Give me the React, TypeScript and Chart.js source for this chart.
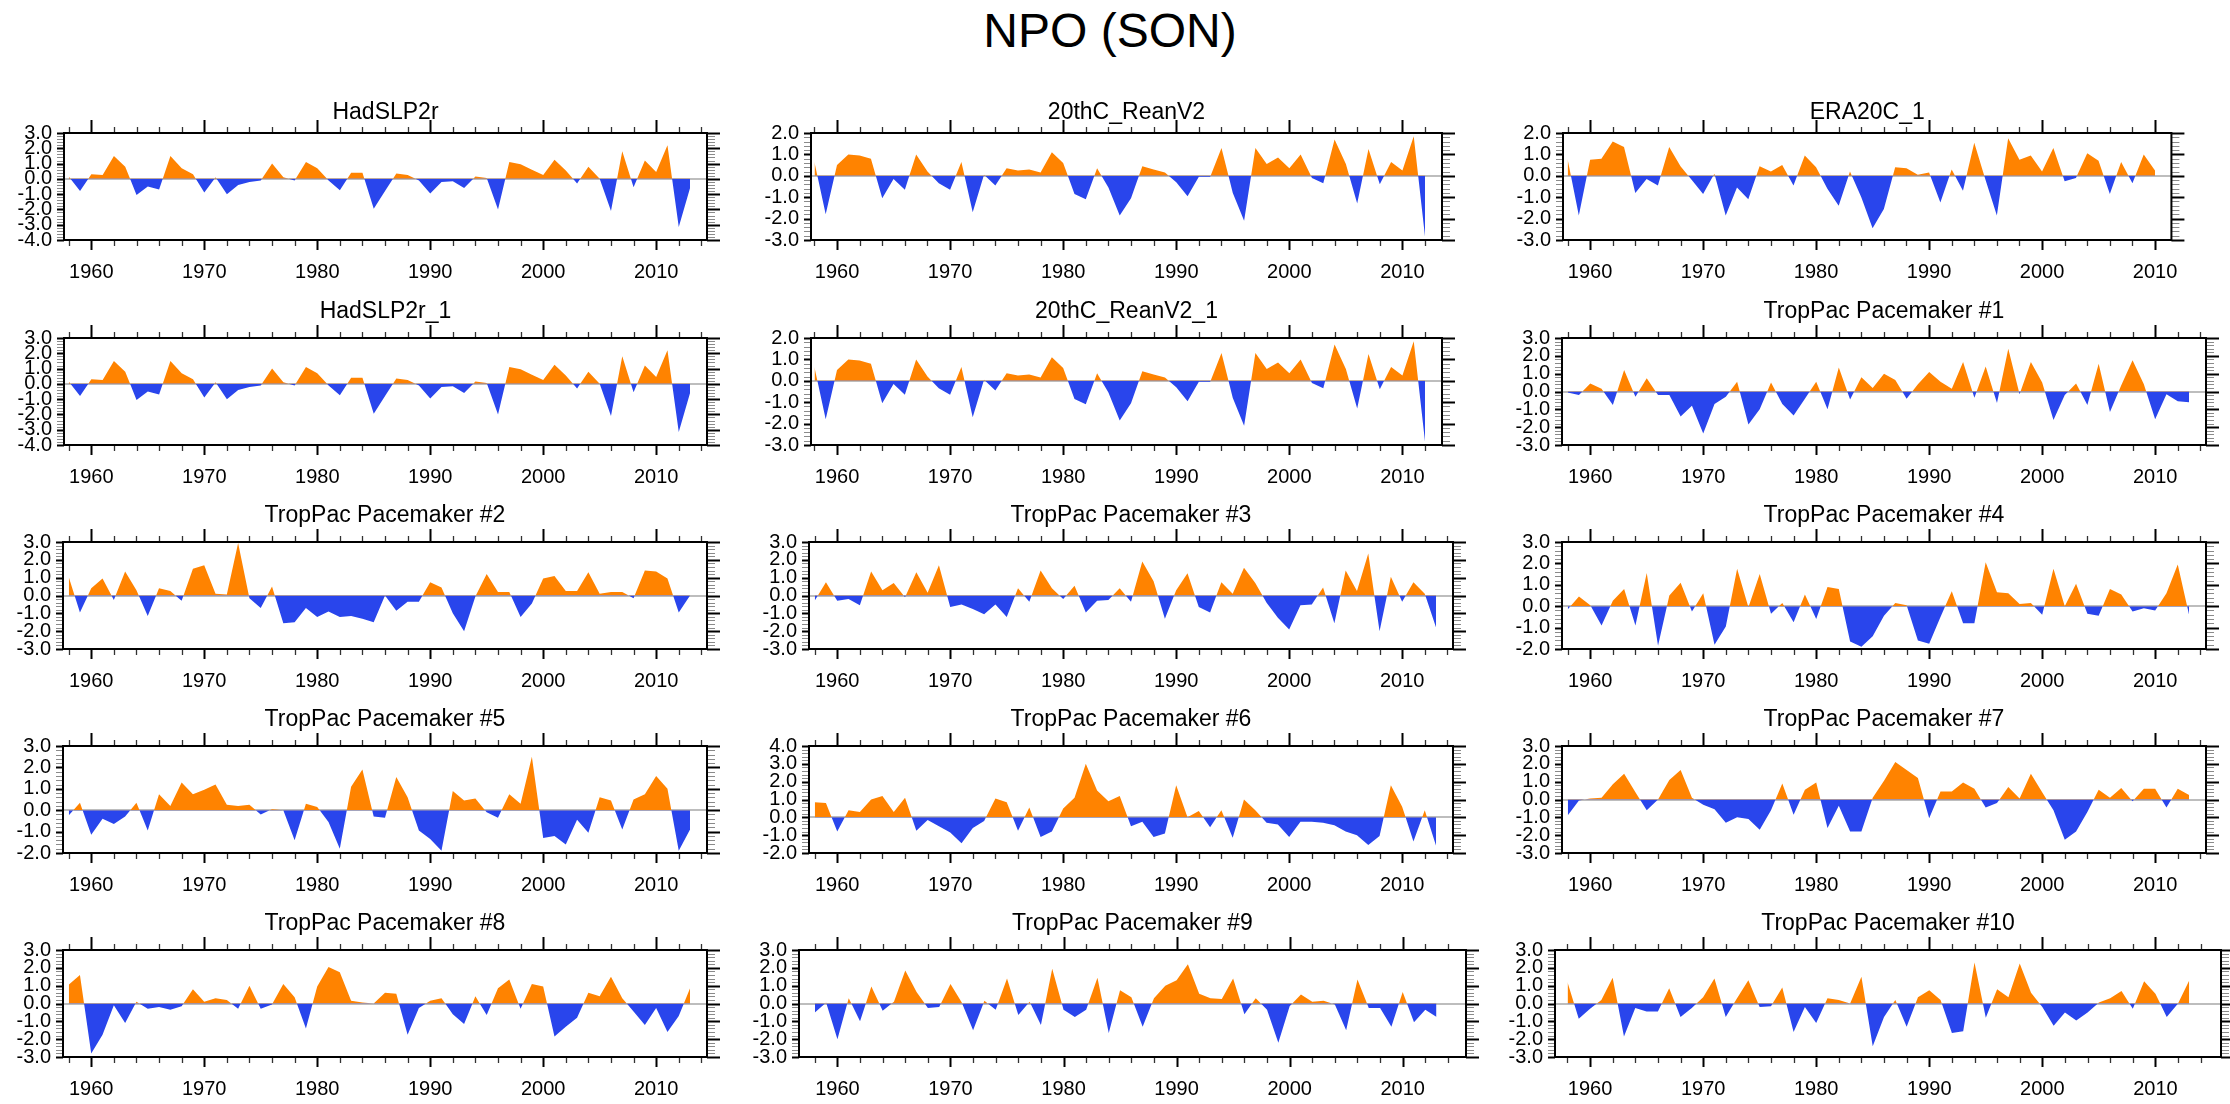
import React, { useEffect, useRef } from 'react';
import { Chart, registerables } from 'chart.js';

Chart.register(...registerables);

const FONT = "'Liberation Sans', Arial, Helvetica, sans-serif";
const ORANGE = '#FF8300';
const BLUE = '#2945EC';

const YEARS = [
  1958, 1959, 1960, 1961, 1962, 1963, 1964, 1965, 1966, 1967,
  1968, 1969, 1970, 1971, 1972, 1973, 1974, 1975, 1976, 1977,
  1978, 1979, 1980, 1981, 1982, 1983, 1984, 1985, 1986, 1987,
  1988, 1989, 1990, 1991, 1992, 1993, 1994, 1995, 1996, 1997,
  1998, 1999, 2000, 2001, 2002, 2003, 2004, 2005, 2006, 2007,
  2008, 2009, 2010, 2011, 2012, 2013,
];

const HADSLP2R = [
  0.15, -0.8, 0.3, 0.25, 1.5, 0.8, -1.05, -0.5, -0.7, 1.5,
  0.7, 0.3, -0.9, 0.1, -1.0, -0.4, -0.2, -0.1, 1.0, 0.1,
  -0.1, 1.1, 0.7, -0.1, -0.75, 0.4, 0.4, -1.95, -0.8, 0.35,
  0.25, -0.1, -0.95, -0.2, -0.15, -0.6, 0.15, 0.05, -2.0, 1.1,
  0.95, 0.6, 0.25, 1.25, 0.55, -0.3, 0.8, 0.0, -2.1, 1.8,
  -0.55, 1.2, 0.45, 2.2, -3.15, -0.6,
];

const REANV2 = [
  0.65, -1.8, 0.5, 1.0, 0.95, 0.8, -1.05, -0.15, -0.65, 1.0,
  0.2, -0.35, -0.65, 0.65, -1.7, 0.05, -0.45, 0.35, 0.25, 0.3,
  0.15, 1.1, 0.6, -0.85, -1.1, 0.35, -0.55, -1.85, -1.05, 0.45,
  0.3, 0.15, -0.3, -0.95, -0.05, -0.05, 1.3, -0.8, -2.1, 1.3,
  0.55, 0.85, 0.35, 1.0, -0.1, -0.35, 1.7, 0.55, -1.3, 1.25,
  -0.4, 0.65, 0.25, 1.85, -2.85,
];

const ERA20C = [
  0.8, -1.85, 0.75, 0.8, 1.6, 1.35, -0.8, -0.15, -0.45, 1.35,
  0.45, -0.2, -0.85, 0.1, -1.85, -0.55, -1.1, 0.45, 0.2, 0.5,
  -0.45, 0.95, 0.4, -0.6, -1.4, 0.2, -1.0, -2.45, -1.55, 0.4,
  0.35, 0.05, 0.15, -1.25, 0.3, -0.7, 1.55, -0.2, -1.85, 1.75,
  0.75, 0.95, 0.2, 1.3, -0.25, -0.1, 1.05, 0.7, -0.85, 0.65,
  -0.35, 1.0, 0.25,
];

const PM1 = [
  -0.05, -0.2, 0.45, 0.15, -0.75, 1.2, -0.3, 0.75, -0.2, -0.2,
  -1.4, -0.8, -2.35, -0.7, -0.3, 0.55, -1.85, -1.0, 0.5, -0.7,
  -1.35, -0.4, 0.55, -1.0, 1.35, -0.45, 0.8, 0.2, 1.0, 0.65,
  -0.4, 0.4, 1.1, 0.55, 0.15, 1.65, -0.35, 1.4, -0.65, 2.4,
  -0.15, 1.65, 0.5, -1.6, -0.2, 0.45, -0.75, 1.55, -1.15, 0.35,
  1.75, 0.4, -1.55, -0.15, -0.55, -0.6,
];

const PM2 = [
  1.05, -0.95, 0.4, 0.95, -0.25, 1.35, 0.3, -1.15, 0.4, 0.25,
  -0.3, 1.5, 1.7, 0.1, 0.05, 2.95, -0.15, -0.7, 0.5, -1.55,
  -1.5, -0.7, -1.2, -0.9, -1.2, -1.15, -1.3, -1.5, 0.0, -0.85,
  -0.35, -0.35, 0.75, 0.45, -1.0, -2.0, -0.05, 1.2, 0.2, 0.2,
  -1.2, -0.45, 0.95, 1.1, 0.25, 0.25, 1.3, 0.1, 0.2, 0.2,
  -0.15, 1.4, 1.35, 0.95, -0.95, 0.0,
];

const PM3 = [
  -0.3, 0.75, -0.3, -0.2, -0.55, 1.35, 0.3, 0.7, -0.1, 1.3,
  0.15, 1.7, -0.65, -0.5, -0.75, -1.05, -0.5, -1.2, 0.4, -0.35,
  1.4, 0.4, -0.2, 0.55, -0.95, -0.3, -0.25, 0.4, -0.35, 1.9,
  0.8, -1.3, 0.3, 1.25, -0.65, -0.95, 0.75, 0.1, 1.55, 0.7,
  -0.4, -1.25, -1.9, -0.55, -0.5, 0.45, -1.55, 1.4, 0.25, 2.35,
  -2.0, 1.05, -0.35, 0.75, 0.1, -1.8,
];

const PM4 = [
  -0.15, 0.45, 0.05, -0.9, 0.25, 0.8, -0.9, 1.55, -1.85, 0.5,
  1.1, -0.25, 0.6, -1.8, -0.95, 1.75, -0.05, 1.5, -0.35, 0.15,
  -0.75, 0.55, -0.6, 0.9, 0.8, -1.65, -1.9, -1.4, -0.45, 0.15,
  0.05, -1.6, -1.75, -0.5, 0.7, -0.8, -0.8, 2.05, 0.65, 0.6,
  0.1, 0.15, -0.4, 1.75, 0.0, 1.05, -0.35, -0.45, 0.8, 0.55,
  -0.25, -0.1, -0.2, 0.6, 1.95, -0.4,
];

const PM5 = [
  -0.25, 0.35, -1.15, -0.4, -0.65, -0.3, 0.35, -0.95, 0.75, 0.2,
  1.3, 0.75, 0.95, 1.2, 0.25, 0.2, 0.25, -0.2, 0.05, 0.0,
  -1.4, 0.3, 0.15, -0.55, -1.8, 1.1, 1.9, -0.3, -0.35, 1.55,
  0.6, -0.95, -1.35, -1.9, 0.9, 0.45, 0.55, -0.1, -0.35, 0.75,
  0.3, 2.5, -1.3, -1.2, -1.6, -0.45, -1.05, 0.6, 0.45, -0.9,
  0.5, 0.75, 1.6, 1.0, -1.9, -0.9,
];

const PM6 = [
  0.85, 0.8, -0.8, 0.4, 0.3, 1.0, 1.2, 0.3, 1.1, -0.75,
  -0.15, -0.5, -0.85, -1.45, -0.6, -0.2, 1.05, 0.85, -0.75, 0.55,
  -1.1, -0.8, 0.5, 1.1, 3.0, 1.5, 0.9, 1.2, -0.5, -0.25,
  -1.1, -0.9, 1.8, 0.0, 0.35, -0.55, 0.4, -1.15, 1.0, 0.4,
  -0.3, -0.4, -1.1, -0.25, -0.25, -0.3, -0.45, -0.8, -1.0, -1.55,
  -1.05, 1.8, 0.6, -1.35, 0.4, -1.6,
];

const PM7 = [
  -0.9, -0.05, 0.05, 0.1, 0.85, 1.45, 0.4, -0.6, 0.0, 1.1,
  1.65, 0.1, -0.3, -0.55, -1.3, -1.0, -1.1, -1.7, -0.6, 0.9,
  -0.85, 0.55, 0.95, -1.6, -0.35, -1.8, -1.8, 0.1, 1.05, 2.1,
  1.65, 1.2, -1.05, 0.45, 0.45, 0.95, 0.6, -0.45, -0.2, 0.7,
  0.05, 1.45, 0.4, -0.6, -2.25, -1.8, -0.7, 0.55, 0.1, 0.65,
  -0.1, 0.6, 0.6, -0.45, 0.6, 0.25,
];

const PM8 = [
  1.05, 1.6, -2.8, -1.75, -0.1, -1.1, 0.1, -0.3, -0.2, -0.35,
  -0.15, 0.8, 0.1, 0.3, 0.2, -0.3, 1.0, -0.3, -0.05, 1.1,
  0.35, -1.4, 0.95, 2.05, 1.75, 0.15, 0.05, 0.0, 0.6, 0.55,
  -1.75, -0.25, 0.15, 0.3, -0.6, -1.15, 0.4, -0.65, 0.85, 1.35,
  -0.3, 1.1, 0.95, -1.85, -1.3, -0.8, 0.6, 0.4, 1.5, 0.3,
  -0.45, -1.2, -0.25, -1.6, -0.7, 0.85,
];

const PM9 = [
  -0.5, 0.05, -2.0, 0.3, -1.0, 0.95, -0.4, 0.1, 1.85, 0.65,
  -0.25, -0.2, 1.1, 0.05, -1.5, 0.15, -0.35, 1.4, -0.65, 0.1,
  -1.2, 1.95, -0.35, -0.75, -0.35, 1.45, -1.65, 0.75, 0.35, -1.3,
  0.3, 1.0, 1.3, 2.2, 0.55, 0.3, 0.25, 1.4, -0.6, 0.3,
  -0.35, -2.2, -0.15, 0.5, 0.1, 0.15, -0.05, -1.5, 1.35, -0.25,
  -0.25, -1.3, 0.65, -1.05, -0.35, -0.75,
];

const PM10 = [
  1.2, -0.85, -0.3, 0.2, 1.45, -1.85, -0.25, -0.45, -0.45, 0.85,
  -0.75, -0.25, 0.35, 1.4, -0.75, 0.3, 1.3, -0.2, -0.15, 0.9,
  -1.6, -0.2, -1.1, 0.3, 0.2, 0.0, 1.5, -2.4, -0.75, 0.2,
  -1.3, 0.35, 0.75, 0.2, -1.65, -1.55, 2.3, -0.8, 0.8, 0.35,
  2.25, 0.6, -0.2, -1.25, -0.5, -0.95, -0.5, 0.05, 0.3, 0.7,
  -0.3, 1.25, 0.55, -0.75, 0.0, 1.3,
];

const TITLES = [
  'HadSLP2r', '20thC_ReanV2', 'ERA20C_1',
  'HadSLP2r_1', '20thC_ReanV2_1', 'TropPac Pacemaker #1',
  'TropPac Pacemaker #2', 'TropPac Pacemaker #3', 'TropPac Pacemaker #4',
  'TropPac Pacemaker #5', 'TropPac Pacemaker #6', 'TropPac Pacemaker #7',
  'TropPac Pacemaker #8', 'TropPac Pacemaker #9', 'TropPac Pacemaker #10',
];

const SERIES = [
  HADSLP2R, REANV2, ERA20C,
  HADSLP2R, REANV2, PM1,
  PM2, PM3, PM4,
  PM5, PM6, PM7,
  PM8, PM9, PM10,
];

// y-axis ranges [min, max]
const Y_RANGES = [
  [-4, 3], [-3, 2], [-3, 2],
  [-4, 3], [-3, 2], [-3, 3],
  [-3, 3], [-3, 3], [-2, 3],
  [-2, 3], [-2, 4], [-3, 3],
  [-3, 3], [-3, 3], [-3, 3],
];

// x-axis ranges [min, max]
const X_RANGES = [
  [1957.58, 2014.5], [1957.7, 2013.5], [1957.6, 2011.45],
  [1957.58, 2014.5], [1957.7, 2013.5], [1957.5, 2014.5],
  [1957.5, 2014.5], [1957.5, 2014.5], [1957.5, 2014.5],
  [1957.5, 2014.5], [1957.5, 2014.5], [1957.5, 2014.5],
  [1957.5, 2014.5], [1956.6, 2015.6], [1956.9, 2015.8],
];

// layout
const COL_1960 = [91, 837, 1590];
const PX_PER_YEAR = 11.3;
const ROW_TOP = [133, 338, 542, 746, 950];
const BOX_H = 107;
const Y_W = 64;
const X_H = 50;
const TITLE_H = 46;
const RIGHT_M = 26;
const TICK_FONT = 20;
const TITLE_FONT = 23;

const nclFrame = {
  id: 'nclFrame',
  afterDatasetsDraw(chart: any) {
    const { ctx, chartArea: a, scales } = chart;
    const xs = scales.x;
    const ys = scales.y;
    ctx.save();
    // x ticks (every 2 years, major every 10)
    for (let yr = Math.ceil(xs.min); yr <= Math.floor(xs.max); yr++) {
      if (yr % 2 !== 0) continue;
      const major = yr % 10 === 0;
      const px = Math.round(xs.getPixelForValue(yr)) + 0.5;
      ctx.strokeStyle = major ? '#000' : '#333';
      ctx.lineWidth = major ? 2 : 1.3;
      ctx.beginPath();
      ctx.moveTo(px, a.bottom);
      ctx.lineTo(px, a.bottom + (major ? 10 : 6));
      ctx.moveTo(px, a.top);
      ctx.lineTo(px, a.top - (major ? 13 : 6));
      ctx.stroke();
    }
    // y ticks (every 0.2, major every 1.0)
    const n = Math.round((ys.max - ys.min) / 0.2);
    for (let i = 0; i <= n; i++) {
      const v = ys.min + i * 0.2;
      const major = i % 5 === 0;
      const py = Math.round(ys.getPixelForValue(v)) + 0.5;
      ctx.strokeStyle = major ? '#000' : '#8a8a8a';
      ctx.lineWidth = major ? 2 : 1;
      ctx.beginPath();
      ctx.moveTo(a.left, py);
      ctx.lineTo(a.left - 7, py);
      ctx.moveTo(a.right, py);
      ctx.lineTo(a.right + (major ? 13 : 8), py);
      ctx.stroke();
    }
    ctx.strokeStyle = '#000';
    ctx.lineWidth = 2;
    ctx.strokeRect(a.left, a.top, a.right - a.left, a.bottom - a.top);
    ctx.restore();
  },
};

function Panel({ idx }: { idx: number }) {
  const ref = useRef<HTMLCanvasElement>(null);
  const col = idx % 3;
  const row = Math.floor(idx / 3);
  const [xMin, xMax] = X_RANGES[idx];
  const [yMin, yMax] = Y_RANGES[idx];
  const boxLeft = COL_1960[col] + (xMin - 1960) * PX_PER_YEAR;
  const boxRight = COL_1960[col] + (xMax - 1960) * PX_PER_YEAR;
  const boxW = boxRight - boxLeft;
  const left = Math.round(boxLeft - Y_W);
  const top = ROW_TOP[row] - TITLE_H;
  const w = Math.round(Y_W + boxW + RIGHT_M);
  const h = TITLE_H + BOX_H + X_H;
  const titleGap = row === 0 ? 20 : 26;
  const titleLH = TITLE_FONT * 1.2;
  const pb = titleGap - titleLH / 2;
  const pt = TITLE_H - titleLH - pb;

  useEffect(() => {
    const values = SERIES[idx];
    const data = values.map((v, i) => ({ x: YEARS[i], y: v }));
    const chart = new Chart(ref.current as HTMLCanvasElement, {
      type: 'line',
      data: {
        datasets: [
          {
            data,
            borderColor: 'rgba(0,0,0,0)',
            borderWidth: 0,
            pointRadius: 0,
            tension: 0,
            fill: { target: { value: 0 }, above: ORANGE, below: BLUE },
          } as any,
        ],
      },
      options: {
        animation: false,
        responsive: false,
        devicePixelRatio: 1,
        events: [],
        layout: { padding: { left: 0, right: RIGHT_M, top: 0, bottom: 0 } },
        plugins: {
          legend: { display: false },
          tooltip: { enabled: false },
          title: {
            display: true,
            text: TITLES[idx],
            fullSize: false,
            color: '#000',
            font: { family: FONT, size: TITLE_FONT, weight: 'normal', lineHeight: 1.2 },
            padding: { top: pt, bottom: pb },
          } as any,
        },
        scales: {
          x: {
            type: 'linear',
            min: xMin,
            max: xMax,
            grid: { display: false, drawTicks: false },
            border: { display: false },
            ticks: {
              stepSize: 10,
              includeBounds: false,
              autoSkip: false,
              maxRotation: 0,
              padding: 20,
              color: '#000',
              font: { family: FONT, size: TICK_FONT },
              callback: (v: any) => String(v),
            },
            afterFit: (s: any) => {
              s.height = X_H;
            },
          } as any,
          y: {
            type: 'linear',
            min: yMin,
            max: yMax,
            grid: {
              drawTicks: false,
              lineWidth: 2,
              color: (c: any) => (c.tick && c.tick.value === 0 ? '#bdbdbd' : 'rgba(0,0,0,0)'),
            },
            border: { display: false },
            ticks: {
              stepSize: 1,
              autoSkip: false,
              padding: 12,
              color: '#000',
              font: { family: FONT, size: TICK_FONT },
              callback: (v: any) => Number(v).toFixed(1),
            },
            afterFit: (s: any) => {
              s.width = Y_W;
            },
          } as any,
        },
      },
      plugins: [nclFrame as any],
    });
    return () => chart.destroy();
  }, [idx]);

  return (
    <canvas
      ref={ref}
      width={w}
      height={h}
      style={{ position: 'absolute', left, top, width: w, height: h }}
    />
  );
}

export default function App() {
  return (
    <div
      style={{
        position: 'absolute',
        left: 0,
        top: 0,
        width: 2230,
        height: 1104,
        background: '#fff',
        overflow: 'hidden',
      }}
    >
      <div
        style={{
          position: 'absolute',
          left: 0,
          top: 6,
          width: 2220,
          textAlign: 'center',
          fontFamily: FONT,
          fontSize: 48,
          lineHeight: '50px',
          color: '#000',
        }}
      >
        NPO (SON)
      </div>
      {TITLES.map((_, i) => (
        <Panel key={i} idx={i} />
      ))}
    </div>
  );
}
